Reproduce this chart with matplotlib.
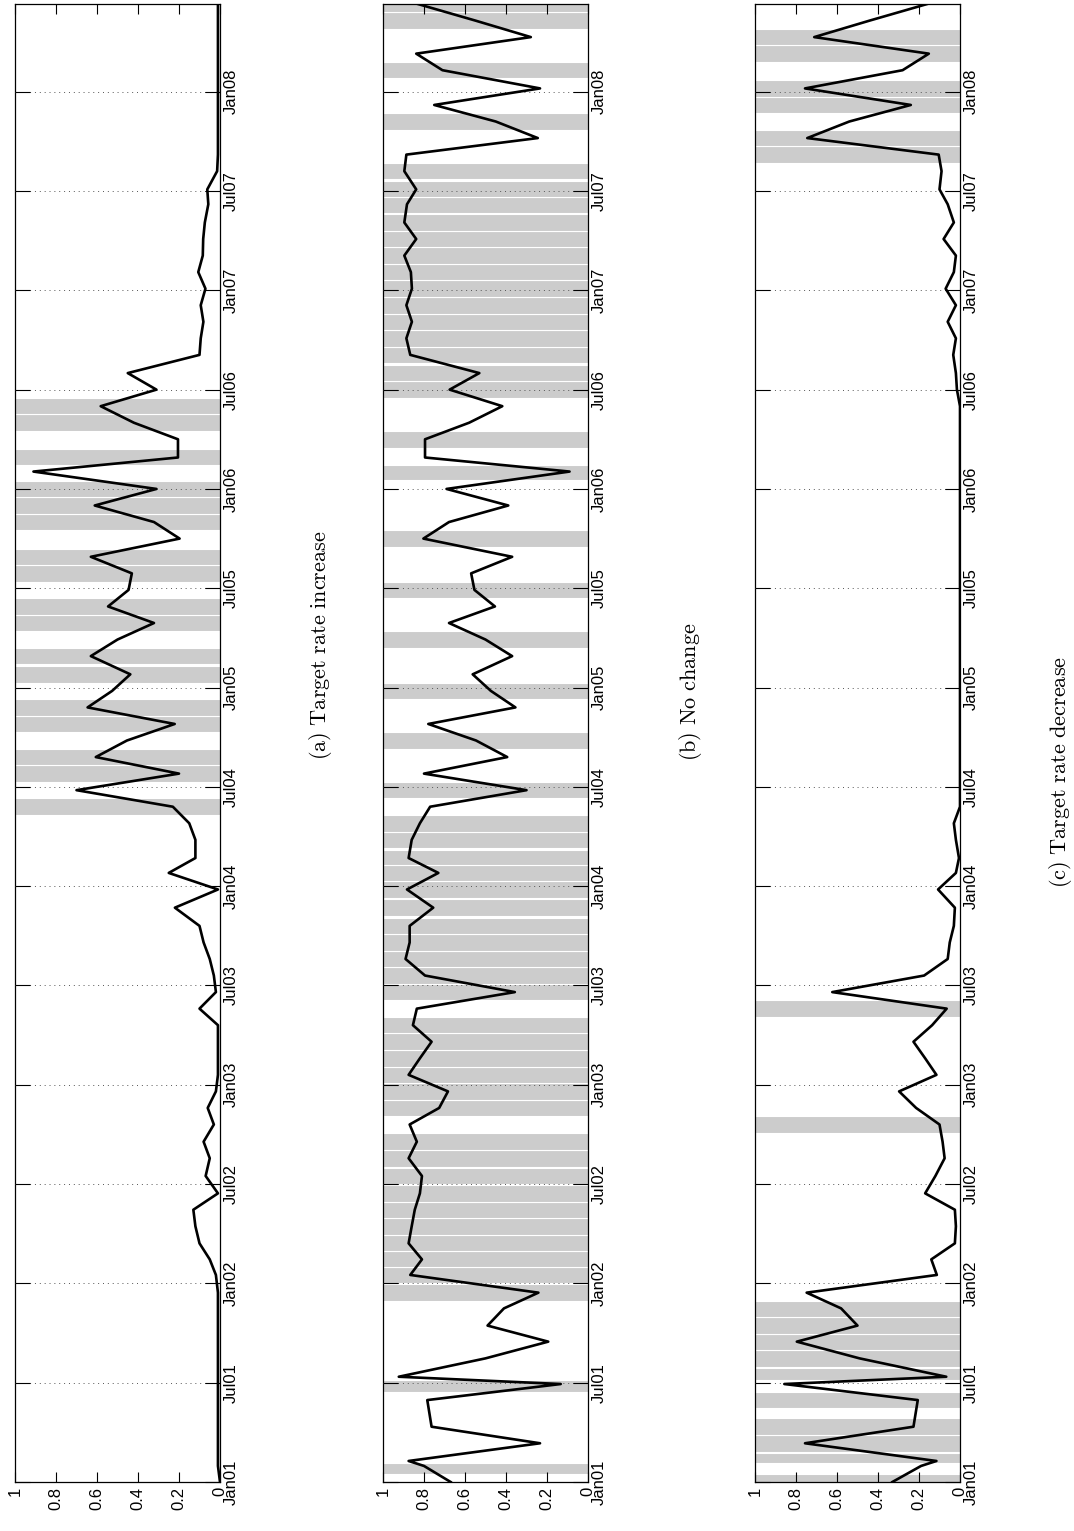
import matplotlib
matplotlib.use("Agg")
import matplotlib.pyplot as plt
import numpy as np

plt.rcParams['mathtext.fontset'] = 'cm'

# months since Jan 2001 of each observation
t = [0, 0.97, 1.27, 2.34, 3.34, 4.95, 5.92, 6.36, 7.47, 8.48, 9.45, 10.49,
     11.44, 12.51, 13.45, 14.42, 15.45, 16.45, 17.44, 18.49, 19.56, 20.56,
     21.6, 22.6, 23.6, 24.6, 25.6, 26.6, 27.6, 28.6, 29.6, 30.6, 31.6, 32.6,
     33.6, 34.7, 35.8, 36.8, 37.7, 38.8, 39.8, 40.8, 41.8, 42.8, 43.8, 44.8,
     45.8, 46.8, 47.8, 48.8, 49.9, 50.9, 51.9, 52.9, 53.9, 54.9, 55.9, 57.0,
     58.0, 59.0, 60.0, 61.05, 61.9, 63.0, 64.0, 65.0, 66.0, 67.0, 68.1, 69.1,
     70.1, 71.1, 72.1, 73.1, 74.1, 75.1, 76.1, 77.2, 78.1, 79.2, 80.2, 81.2,
     82.2, 83.2, 84.2, 85.3, 86.3, 87.3, 88.3, 89.3]

p_nochange = [.67, .80, .875, .234, .763, .784, .133, .923, .50, .194, .49, .41,
              .242, .867, .81, .875, .86, .845, .82, .81, .875, .835,
              .87, .726, .683, .875, .82, .763, .854, .835, .357, .795, .89, .87,
              .87, .755, .883, .73, .875, .86, .82, .77, .30, .80, .394, .546,
              .779, .354, .474, .5625, .37, .50, .678, .454, .554, .57, .37, .803,
              .678, .389, .69, .09, .795, .795, .58, .418, .675, .53, .867, .886,
              .859, .886, .859, .864, .896, .838, .896, .883, .838, .896, .886, .245,
              .45, .75, .234, .71, .838, .279, .55, .83]

p_decrease = [.33, .19, .115, .756, .227, .206, .857, .067, .49, .796, .50, .58,
              .748, .113, .14, .025, .02, .025, .17, .12, .075, .085,
              .10, .214, .297, .115, .17, .227, .136, .065, .623, .175, .06, .05,
              .03, .025, .107, .02, .005, .02, .03, .0, .0, .0, .0, .0,
              .0, .0, .0, .0, .0, .0, .0, .0, .0, .0, .0, .0,
              .0, .0, .0, .0, .0, .0, .0, .0, .015, .02, .033, .02,
              .06, .02, .07, .03, .02, .08, .03, .06, .10, .09, .104, .745,
              .54, .24, .756, .28, .152, .711, .44, .16]

p_increase = [max(0.0, 1 - b - c) for b, c in zip(p_nochange, p_decrease)]

# realised outcome at each observation: 'a' increase, 'b' no change, 'c' decrease
outcome = (['c', 'b'] + ['c'] * 4 + ['b'] + ['c'] * 5 +
           ['b'] * 10 +
           ['c'] + ['b'] * 6 + ['c'] + ['b'] * 11 +
           ['a', 'b', 'a', 'a', 'b', 'a', 'a', 'b', 'a', 'a', 'b', 'a', 'a', 'b', 'a', 'a', 'b',
            'a', 'a', 'a', 'b', 'a', 'b', 'a', 'a'] +
           ['b'] * 14 +
           ['c', 'c', 'b', 'c', 'c', 'b', 'c', 'c', 'b', 'b'])

tick_pos = list(range(0, 85, 6))
tick_lab = ['Jan01', 'Jul01', 'Jan02', 'Jul02', 'Jan03', 'Jul03', 'Jan04', 'Jul04',
            'Jan05', 'Jul05', 'Jan06', 'Jul06', 'Jan07', 'Jul07', 'Jan08']
val_ticks = [0, 0.2, 0.4, 0.6, 0.8, 1]
val_labels = ['0', '0.2', '0.4', '0.6', '0.8', '1']

panels = [('a', p_increase, r'$\mathrm{(a)\ Target\ rate\ increase}$'),
          ('b', p_nochange, r'$\mathrm{(b)\ No\ change}$'),
          ('c', p_decrease, r'$\mathrm{(c)\ Target\ rate\ decrease}$')]

W, H = 1074, 1531
fig = plt.figure(figsize=(W / 100, H / 100), dpi=100)
lefts = [15, 383, 755]
cap_x = [320, 690, 1060]
cap_y = [645, 692, 772]
T_MAX = 89.3

tt = np.array(t)
mids = (tt[1:] + tt[:-1]) / 2
lo = np.maximum(tt - 0.5, np.concatenate([[-1], mids]))
hi = np.minimum(tt + 0.5, np.concatenate([mids, [100]]))

for (key, vals, cap), lx, cx, cy in zip(panels, lefts, cap_x, cap_y):
    ax = fig.add_axes([lx / W, 49 / H, 205 / W, 1478 / H])
    for i, o in enumerate(outcome):
        if o == key:
            ax.axhspan(lo[i], hi[i], facecolor='#cccccc', edgecolor='white', lw=0.8, zorder=0)
    ax.plot(vals, t, color='black', lw=1.9, zorder=3)
    ax.set_xlim(1, 0)
    ax.set_ylim(0, T_MAX)
    ax.set_yticks(tick_pos)
    ax.set_yticklabels(tick_lab, rotation=90, va='center', fontsize=12,
                       family=['Liberation Sans', 'DejaVu Sans'])
    ax.set_xticks(val_ticks)
    ax.set_xticklabels(val_labels, rotation=90, ha='center', va='top', fontsize=12,
                       family=['Liberation Sans', 'DejaVu Sans'])
    ax.tick_params(axis='y', direction='in', left=True, right=True, labelleft=False,
                   labelright=True, length=11, width=0.8, pad=3)
    ax.tick_params(axis='x', direction='in', top=True, bottom=True, length=7, width=0.8)
    ax.yaxis.grid(True, linestyle=(0, (1, 4)), color='#555555', lw=0.7, zorder=1)
    for s in ax.spines.values():
        s.set_linewidth(0.9)
    ax.set_axisbelow(False)
    fig.text(cx / W, 1 - cy / H, cap, rotation=90, ha='center', va='center',
             fontsize=16)

fig.savefig('out.png', dpi=100)
